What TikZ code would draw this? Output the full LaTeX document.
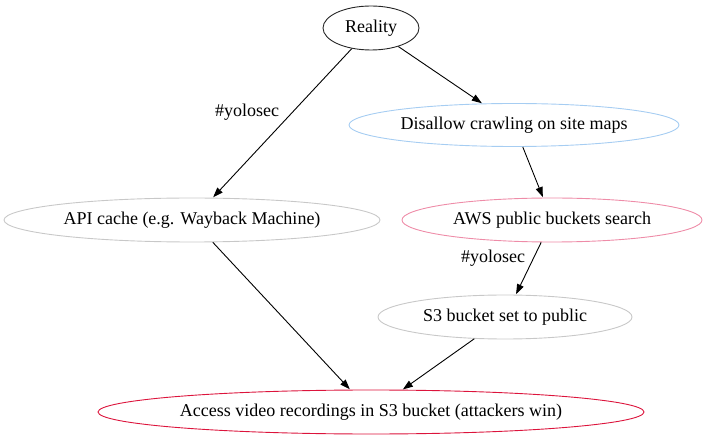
\documentclass[tikz,border=0pt]{standalone}
\usepackage{fontspec}
\setmainfont{Liberation Serif}
\usetikzlibrary{shapes.geometric,arrows.meta}
\definecolor{cblue}{HTML}{A6CDF2}
\definecolor{cpink}{HTML}{EE8CA8}
\definecolor{cgray}{HTML}{C8C8C8}
\definecolor{ccrimson}{HTML}{DC143C}
\tikzset{
  ell/.style={ellipse, draw, inner sep=0pt, font=\fontsize{18pt}{20pt}\selectfont, line width=0.9pt},
  lbl/.style={font=\fontsize{18pt}{20pt}\selectfont, inner sep=0pt},
  edge/.style={-{Triangle[length=10pt,width=7pt]}, line width=0.9pt, shorten >=0.5pt},
}
\begin{document}
\begin{tikzpicture}[x=1pt,y=-1pt]
\useasboundingbox (0,0) rectangle (709,443);
\node[ell, draw=black!85, minimum width=96pt, minimum height=44pt] (r) at (371,28) {Reality};
\node[ell, draw=cblue, minimum width=330pt, minimum height=43pt] (d) at (514,125) {Disallow crawling on site maps};
\node[ell, draw=cgray, minimum width=376pt, minimum height=44pt] (api) at (192,220) {API cache (e.g. Wayback Machine)};
\node[ell, draw=cpink, minimum width=300pt, minimum height=44pt] (aws) at (552,220) {AWS public buckets search};
\node[ell, draw=cgray, minimum width=254pt, minimum height=44pt] (s3) at (505,317) {S3 bucket set to public};
\node[ell, draw=ccrimson, minimum width=546pt, minimum height=44pt] (acc) at (371,412) {Access video recordings in S3 bucket (attackers win)};
\node[lbl] (l1) at (247,112) {\#yolosec};
\node[lbl] (l2) at (493,258) {\#yolosec};
\draw[edge] (r) -- (api);
\draw[edge] (r) -- (d);
\draw[edge] (d) -- (aws);
\draw[edge] (aws) -- (s3);
\draw[edge] (api) -- (acc);
\draw[edge] (s3) -- (acc);
\end{tikzpicture}
\end{document}
